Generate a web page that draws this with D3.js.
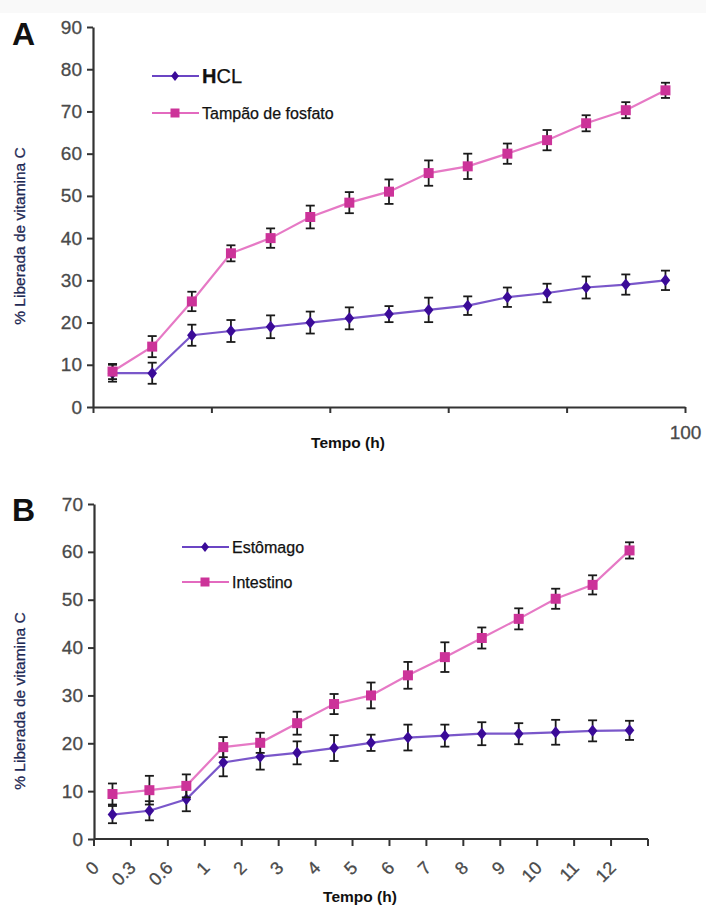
<!DOCTYPE html>
<html>
<head>
<meta charset="utf-8">
<script src="https://cdn.jsdelivr.net/npm/d3@7"></script>
<style>
  body { margin: 0; background: #fff; }
  text { font-family: "Liberation Sans", Arial, sans-serif; }
</style>
</head>
<body>
<svg></svg>
<script>
// panel A data
const timeA = [3.3, 10, 16.7, 23.3, 30, 36.7, 43.3, 50, 56.7, 63.3, 70, 76.7, 83.3, 90, 96.7];
const hcl = [8, 8, 17, 18, 19, 20, 21, 22, 23, 24, 26, 27, 28.3, 29, 30];
const hclErr = [2, 2.5, 2.5, 2.6, 2.7, 2.6, 2.6, 1.9, 2.9, 2.2, 2.3, 2.2, 2.6, 2.4, 2.3];
const tampao = [8.4, 14.3, 25, 36.4, 40, 45, 48.4, 51, 55.4, 57, 60, 63.2, 67.2, 70.3, 75];
const tampaoErr = [1.8, 2.5, 2.3, 1.9, 2.3, 2.7, 2.5, 2.9, 3, 3, 2.4, 2.4, 1.9, 1.9, 1.8];
const ticksA = [0, 20, 40, 60, 80, 100];
const yTicksA = [0, 10, 20, 30, 40, 50, 60, 70, 80, 90];

// panel B data
const timeB = ["0", "0.3", "0.6", "1", "2", "3", "4", "5", "6", "7", "8", "9", "10", "11", "12"];
const estomago = [5.1, 5.9, 8.3, 16, 17.2, 18, 19, 20.1, 21.2, 21.6, 22, 22, 22.3, 22.6, 22.7];
const estomagoErr = [1.8, 2, 2.5, 2.9, 2.7, 2.4, 2.7, 1.7, 2.7, 2.3, 2.4, 2.2, 2.6, 2.2, 2];
const intestino = [9.4, 10.2, 11.1, 19.2, 20.1, 24.2, 28.2, 30, 34.2, 38, 42, 46, 50.2, 53.1, 60.3];
const intestinoErr = [2.2, 3, 2.4, 2.1, 2.1, 2.4, 2.1, 2.7, 2.8, 3.1, 2.2, 2.2, 2.1, 2, 1.7];
const yTicksB = [0, 10, 20, 30, 40, 50, 60, 70];

const PURPLE_LINE = "#6b45c4", PURPLE = "#3b0b98";
const PINK_LINE = "#e36abf", PINK = "#cc3399";
const AXIS = "#333", LABEL = "#4a4a4a";

let svg = d3.select("svg").attr("width", 706).attr("height", 906);

svg.append("rect").attr("width", 706).attr("height", 13).attr("fill", "#f9f9f9");

let diamond = (s) => `M0,${-s}L${s * 0.8},0L0,${s}L${-s * 0.8},0Z`;
let square = (s) => `M${-s},${-s}H${s}V${s}H${-s}Z`;

function drawSeries(g, xs, vals, errs, x, y, lineColor, markColor, shape) {
    const line = d3.line().x((d, i) => x(xs[i])).y((d) => y(d));
    g.append("path")
        .attr("d", line(vals))
        .attr("fill", "none")
        .attr("stroke", lineColor)
        .attr("stroke-width", 2.2)
        .attr("stroke-opacity", 0.9);

    let eb = g.append("g").attr("stroke", "#1a1a1a").attr("stroke-width", 1.8);
    vals.forEach((v, i) => {
        let cx = x(xs[i]);
        let y1 = y(v + errs[i]), y2 = y(v - errs[i]);
        eb.append("line").attr("x1", cx).attr("x2", cx).attr("y1", y1).attr("y2", y2);
        eb.append("line").attr("x1", cx - 4.5).attr("x2", cx + 4.5).attr("y1", y1).attr("y2", y1);
        eb.append("line").attr("x1", cx - 4.5).attr("x2", cx + 4.5).attr("y1", y2).attr("y2", y2);
    });

    g.selectAll(null)
        .data(vals)
        .join("path")
        .attr("d", shape)
        .attr("transform", (d, i) => `translate(${x(xs[i])},${y(d)})`)
        .attr("fill", markColor);
}

function styleLabels(sel, size) {
    sel.attr("fill", LABEL)
        .attr("stroke", LABEL)
        .attr("stroke-width", 0.3)
        .style("font-size", size + "px")
        .style("font-family", "'Liberation Sans', Arial, sans-serif");
}

function yAxis(g, y, ticks, x0) {
    let ax = g.append("g")
        .attr("transform", `translate(${x0},0)`)
        .call(d3.axisLeft(y).tickValues(ticks).tickSize(6).tickPadding(5).tickSizeOuter(0));
    ax.select(".domain").attr("stroke", AXIS).attr("stroke-width", 2.2);
    ax.selectAll(".tick line").attr("stroke", AXIS).attr("stroke-width", 2);
    styleLabels(ax.selectAll(".tick text"), 19);
    return ax;
}

function legend(g, x0, yy, color, markColor, shape, label, size) {
    g.append("line").attr("x1", x0).attr("x2", x0 + 47).attr("y1", yy).attr("y2", yy)
        .attr("stroke", color).attr("stroke-width", 2);
    g.append("path").attr("d", shape).attr("transform", `translate(${x0 + 23},${yy})`).attr("fill", markColor);
    return g.append("text").attr("x", x0 + 50).attr("y", yy).attr("dy", "0.35em")
        .style("font-size", size + "px").attr("fill", "#111")
        .attr("stroke", "#111").attr("stroke-width", 0.25).text(label);
}

function yTitle(g, cx, cy) {
    g.append("text")
        .attr("transform", `translate(${cx},${cy}) rotate(-90)`)
        .attr("text-anchor", "middle")
        .style("font-size", "15.5px")
        .attr("fill", "#1f2a55")
        .attr("stroke", "#1f2a55")
        .attr("stroke-width", 0.3)
        .text("% Liberada de vitamina C");
}

function xTitle(g, cx, cy) {
    g.append("text").attr("x", cx).attr("y", cy).attr("text-anchor", "middle")
        .style("font-size", "15.5px").style("font-weight", "bold").attr("fill", "#111").text("Tempo (h)");
}

// ---------- Panel A ----------
const gA = svg.append("g");
const xA = d3.scaleLinear().domain([0, 100]).range([93, 685]);
const yA = d3.scaleLinear().domain([0, 90]).range([407, 27]);

let axA = gA.append("g")
    .attr("transform", "translate(0,407)")
    .call(d3.axisBottom(xA).tickValues(ticksA).tickSize(6).tickPadding(13).tickSizeOuter(0)
        .tickFormat((d) => (d === 100 ? "100" : "")));
axA.select(".domain").attr("stroke", AXIS).attr("stroke-width", 2.2);
axA.selectAll(".tick line").attr("stroke", AXIS).attr("stroke-width", 2);
styleLabels(axA.selectAll(".tick text"), 19);
yAxis(gA, yA, yTicksA, 93);

drawSeries(gA, timeA, hcl, hclErr, xA, yA, PURPLE_LINE, PURPLE, diamond(6));
drawSeries(gA, timeA, tampao, tampaoErr, xA, yA, PINK_LINE, PINK, square(5));

gA.append("text").attr("x", 12).attr("y", 45).style("font-size", "32px").style("font-weight", "bold")
    .attr("fill", "#111").text("A");
yTitle(gA, 25, 236);
xTitle(gA, 348, 448);

let hLabel = legend(gA, 152, 76, PURPLE_LINE, PURPLE, diamond(5), "", 20);
hLabel.append("tspan").style("font-weight", "bold").text("H");
hLabel.append("tspan").text("CL");
legend(gA, 152, 113, PINK_LINE, PINK, square(4.5), "Tampão de fosfato", 16);

// ---------- Panel B ----------
const gB = svg.append("g");
const xB = d3.scaleBand().domain(timeB).range([94, 648]);
const yB = d3.scaleLinear().domain([0, 70]).range([839, 504]);
const xBc = (t) => xB(t) + xB.bandwidth() / 2;

gB.append("line").attr("x1", 94).attr("x2", 648).attr("y1", 839).attr("y2", 839)
    .attr("stroke", AXIS).attr("stroke-width", 2.2);
let edges = timeB.map((t) => xB(t)).concat([xB.range()[1]]);
gB.selectAll(null).data(edges).join("line")
    .attr("x1", (d) => d).attr("x2", (d) => d).attr("y1", 839).attr("y2", 846)
    .attr("stroke", AXIS).attr("stroke-width", 2);
let xlB = gB.selectAll(null).data(timeB).join("text")
    .attr("transform", (d) => `translate(${xB(d) + 6},869) rotate(-45)`)
    .attr("text-anchor", "end")
    .text((d) => d);
styleLabels(xlB, 18);
yAxis(gB, yB, yTicksB, 94);

drawSeries(gB, timeB, estomago, estomagoErr, xBc, yB, PURPLE_LINE, PURPLE, diamond(6));
drawSeries(gB, timeB, intestino, intestinoErr, xBc, yB, PINK_LINE, PINK, square(5));

gB.append("text").attr("x", 12).attr("y", 521).style("font-size", "32px").style("font-weight", "bold")
    .attr("fill", "#111").text("B");
yTitle(gB, 25, 701);
xTitle(gB, 360, 902);

legend(gB, 182, 547, PURPLE_LINE, PURPLE, diamond(5), "Estômago", 16);
legend(gB, 182, 582, PINK_LINE, PINK, square(4.5), "Intestino", 16);
</script>
</body>
</html>
